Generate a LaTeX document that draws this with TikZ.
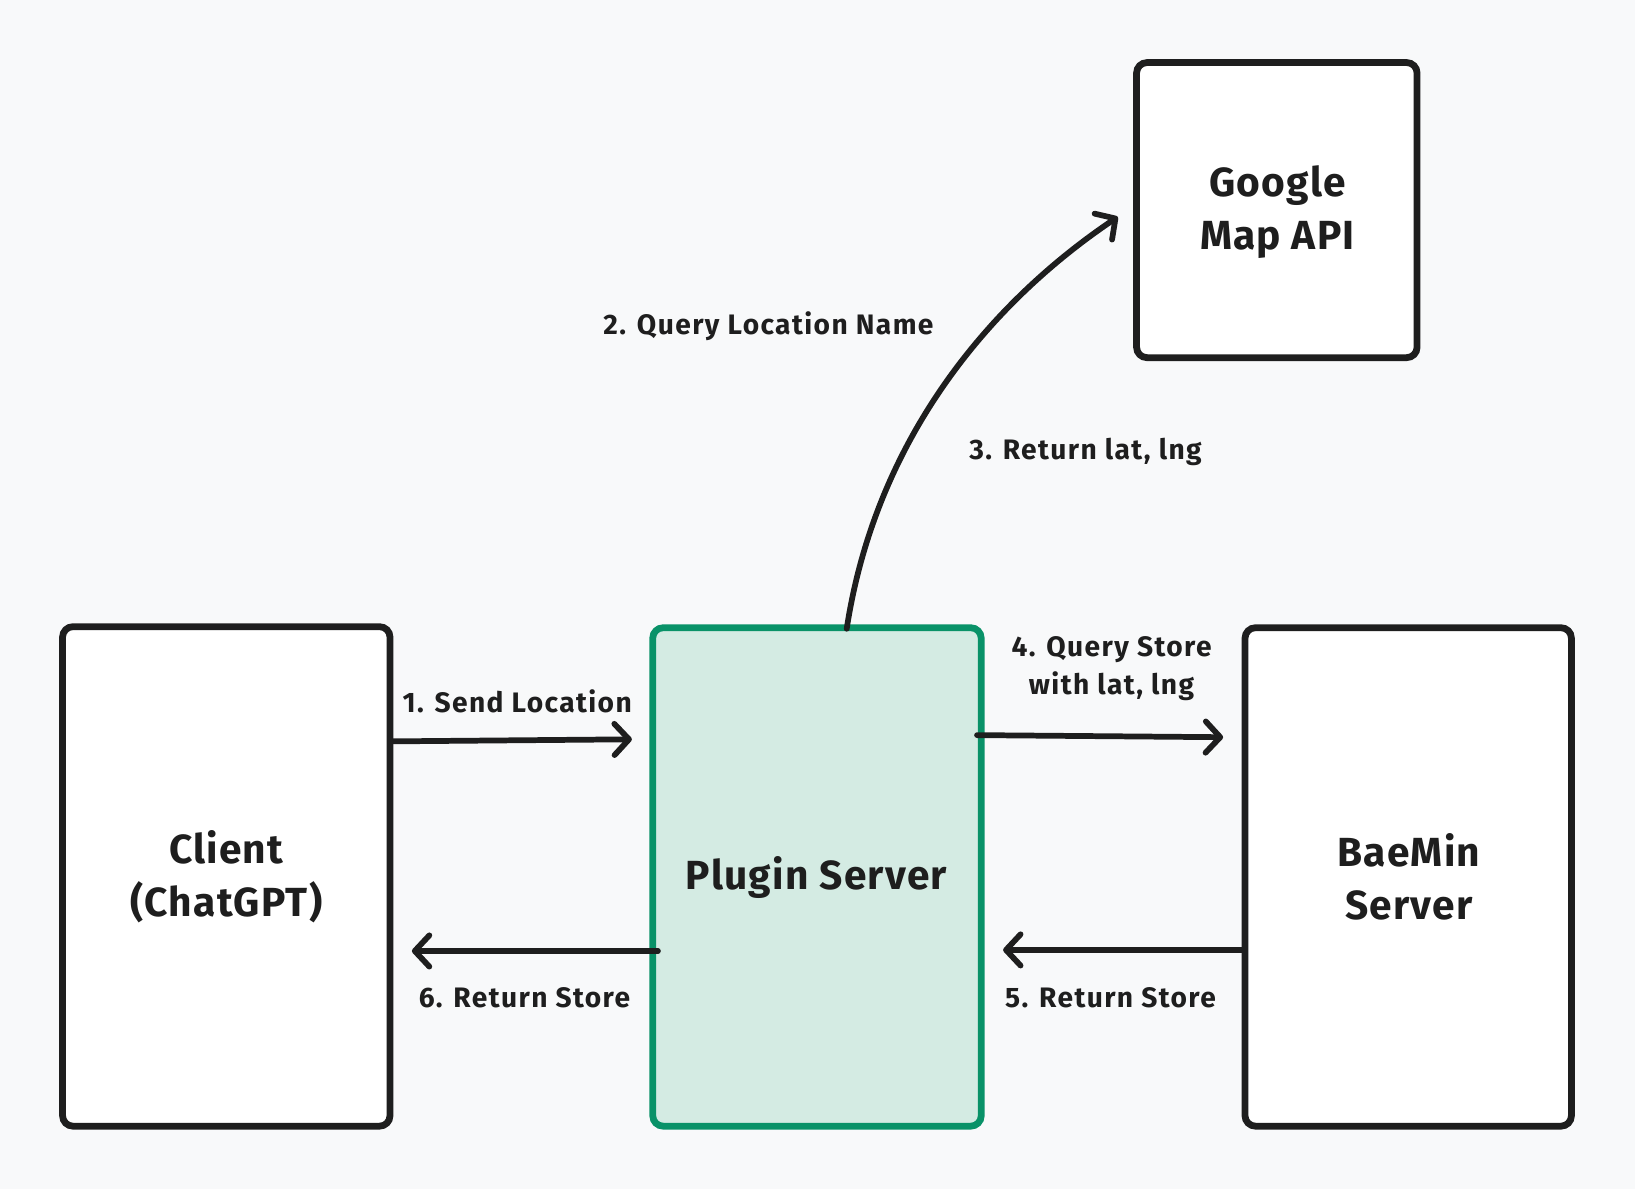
\documentclass[tikz,border=0pt]{standalone}
\usepackage{fontspec}
\setmainfont{Fira Sans}
\usetikzlibrary{arrows.meta}
\definecolor{bgc}{RGB}{248,249,250}
\definecolor{ink}{RGB}{30,30,30}
\definecolor{grn}{RGB}{9,146,104}
\definecolor{grnfill}{RGB}{212,235,227}
\tikzset{
  box/.style={draw=ink, line width=6.5pt, rounded corners=10pt, fill=white},
  pbox/.style={draw=grn, line width=6.5pt, rounded corners=10pt, fill=grnfill},
  title/.style={font=\fontsize{39}{51}\selectfont\bfseries\addfontfeatures{LetterSpace=3}, text=ink, align=center},
  lbl/.style={font=\fontsize{27}{36}\selectfont\bfseries\addfontfeatures{LetterSpace=5}, text=ink, align=center},
  conn/.style={draw=ink, line width=5.5pt, line cap=round,
    -{Straight Barb[length=14pt, width=30pt, line width=5.5pt, round]}},
}
\begin{document}
\begin{tikzpicture}[x=1pt,y=-1pt]
\fill[bgc] (0,0) rectangle (1568,1140);
\useasboundingbox (0,0) rectangle (1568,1140);
% boxes
\draw[box] (60,601) rectangle (374,1080);
\node[title] (client) at (217,841) {Client\\(ChatGPT)};
\draw[pbox] (626,602) rectangle (941,1080);
\node[title] (plugin) at (783,842) {Plugin Server};
\draw[box] (1194,602) rectangle (1507,1080);
\node[title] (baemin) at (1351,841) {BaeMin\\Server};
\draw[box] (1090,60) rectangle (1359,343);
\node[title] (google) at (1225,203) {Google\\Map API};
% anchor coordinates
\coordinate (a1s) at (374,711);
\coordinate (a1e) at (606,709);
\coordinate (a2s) at (812,603);
\coordinate (a2e) at (1072,208);
\coordinate (a4s) at (937,705);
\coordinate (a4e) at (1173,707);
\coordinate (a5s) at (1194,911);
\coordinate (a5e) at (962,911);
\coordinate (a6s) at (631,912);
\coordinate (a6e) at (395,912);
% connectors
\draw[conn] (a1s) -- (a1e);
\draw[conn] (a2s) .. controls (840,420) and (950,290) .. (a2e);
\draw[conn] (a4s) -- (a4e);
\draw[conn] (a5s) -- (a5e);
\draw[conn] (a6s) -- (a6e);
% labels
\node[lbl] (l1) at (496,673) {1. Send Location};
\node[lbl] (l2) at (737,313) {2. Query Location Name};
\node[lbl] (l3) at (1041,433) {3. Return lat, lng};
\node[lbl] (l4) at (1066,641) {4. Query Store\\with lat, lng};
\node[lbl] (l5) at (1065,957) {5. Return Store};
\node[lbl] (l6) at (503,957) {6. Return Store};
\end{tikzpicture}
\end{document}
